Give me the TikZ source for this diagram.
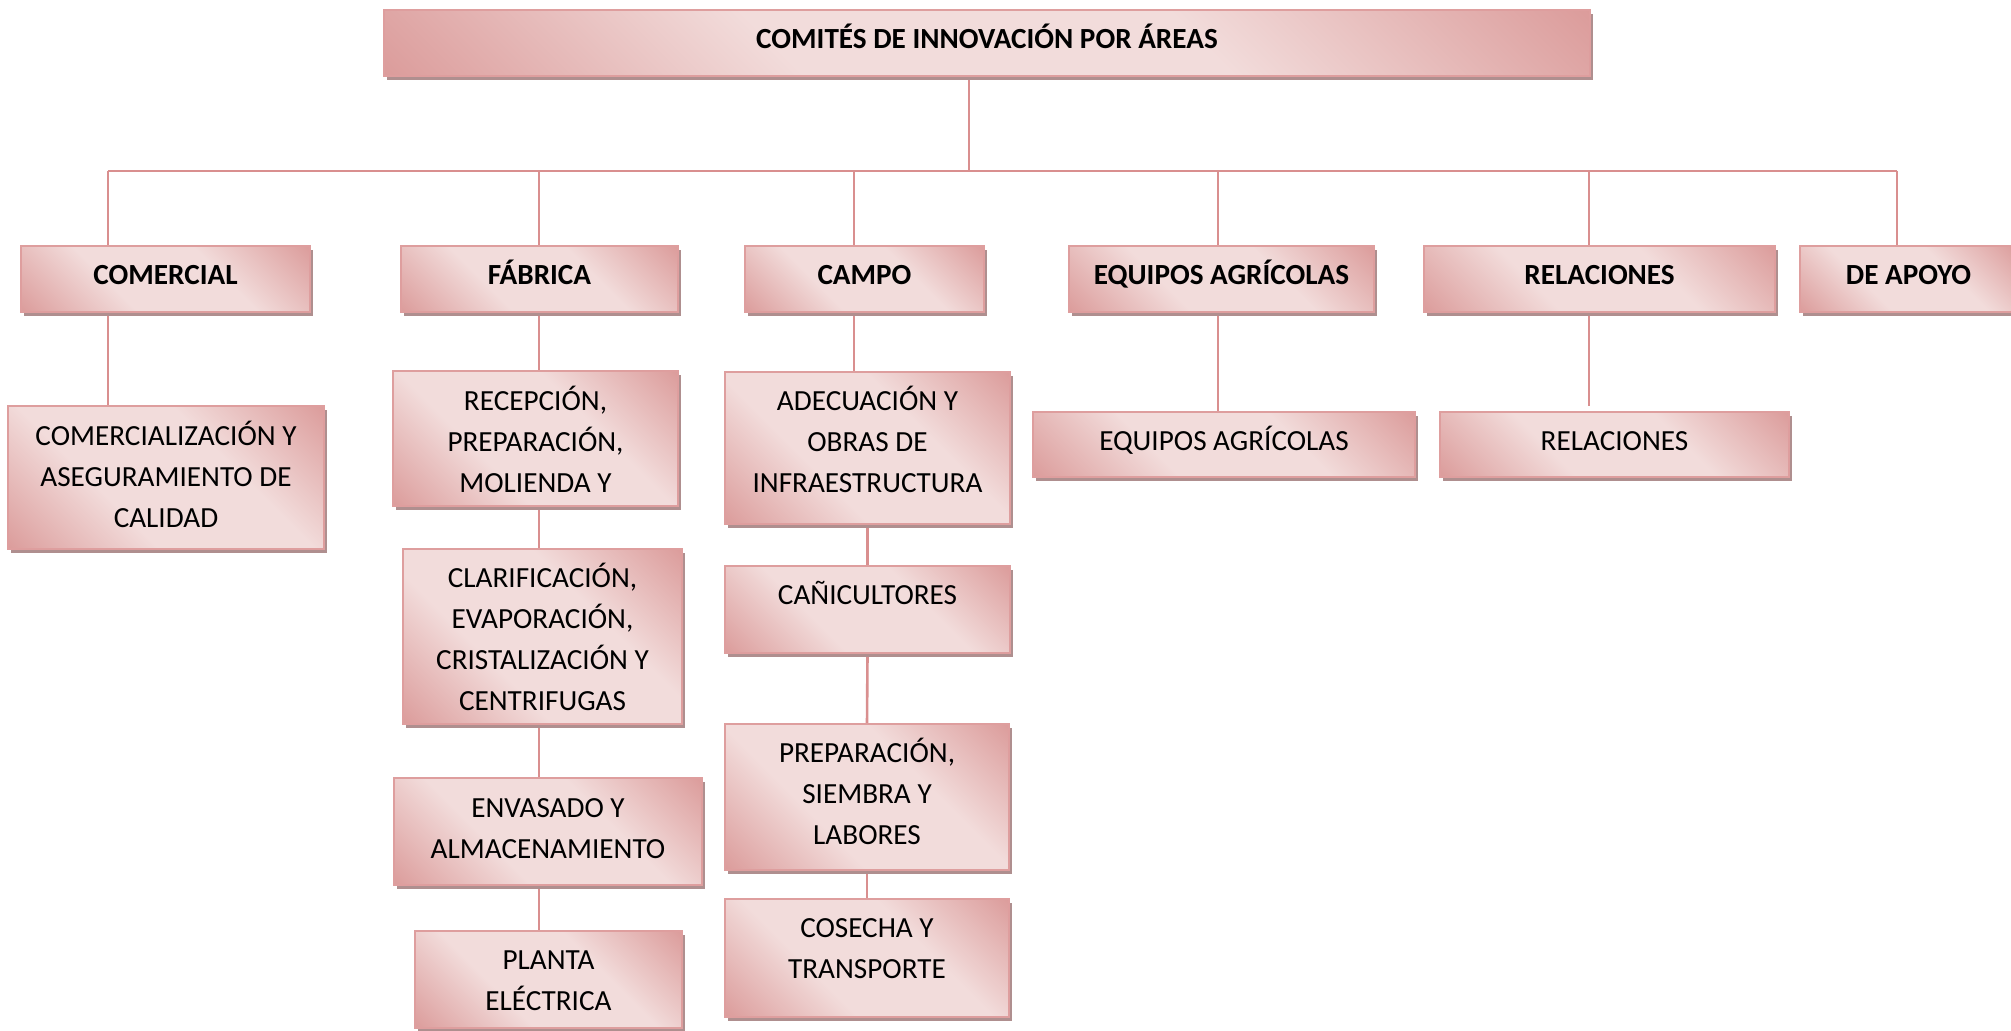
\documentclass[tikz,border=0pt]{standalone}
\usepackage{fontspec}
\setmainfont{Carlito}
\usetikzlibrary{shadows,backgrounds}

\definecolor{rdark}{HTML}{D99594}
\definecolor{rlight}{HTML}{F2DCDB}
\definecolor{rborder}{HTML}{DE9E9E}
\definecolor{rline}{HTML}{D98F8F}
\definecolor{rshadow}{HTML}{AF8F8F}

% diagonal light band between two darker corners
\pgfdeclareverticalshading{rosegrad}{100bp}{%
  color(0bp)=(rdark); color(12bp)=(rdark); color(38bp)=(rlight);
  color(62bp)=(rlight); color(88bp)=(rdark); color(100bp)=(rdark)}

\newcommand\boxfont{\fontsize{14.6pt}{20.5pt}\selectfont}
% centred lines, baseline on the first one
\newcommand\stack[1]{\begin{tabular}[t]{@{}c@{}}#1\end{tabular}}

\tikzset{
  orgbox/.style={draw=rborder, line width=0.9pt, shade, shading=rosegrad,
    shading angle=-45, inner sep=0pt, font=\boxfont,
    text=black, text height=9.2pt, text depth=3.2pt,
    general shadow={fill=rshadow, shadow xshift=1.5pt, shadow yshift=-2pt}},
  headbox/.style={orgbox, font=\boxfont\bfseries},
  sz/.style 2 args={minimum width=#1pt, minimum height=#2pt},
  conn/.style={draw=rline, line width=1.3pt},
}

\begin{document}
\begin{tikzpicture}[x=0.5pt, y=-0.5pt]
\path[use as bounding box] (0,0) rectangle (2011,1031);
\clip (0,0) rectangle (2011,1031);

% bus and drop points
\coordinate (btop) at (969,171);
\coordinate (b1) at (108,171);
\coordinate (b2) at (539,171);
\coordinate (b3) at (854,171);
\coordinate (b4) at (1218,171);
\coordinate (b5) at (1589,171);
\coordinate (b6) at (1897,171);

% top level
\node[headbox, sz={603}{33}] (top) at (987,43) {COMITÉS DE INNOVACIÓN POR ÁREAS};

% second level
\node[headbox, sz={144.5}{33}] (com2) at (165.5,279) {COMERCIAL};
\node[headbox, sz={138.5}{33}] (fab2) at (539.5,279) {FÁBRICA};
\node[headbox, sz={119.5}{33}] (cam2) at (864.5,279) {CAMPO};
\node[headbox, sz={152.5}{33}] (equ2) at (1221.5,279) {EQUIPOS AGRÍCOLAS};
\node[headbox, sz={175.5}{33}] (rel2) at (1599.5,279) {RELACIONES};
\node[headbox, sz={108.5}{33}] (apo2) at (1908.5,279) {DE APOYO};

% third level
\node[orgbox, text depth=41pt, sz={158}{71.5}] (com3) at (166,477.5)
  {\stack{COMERCIALIZACIÓN Y\\ASEGURAMIENTO DE\\CALIDAD}};

\node[orgbox, text depth=37pt, sz={142.5}{67.5}] (rec) at (535.5,438.5)
  {\stack{RECEPCIÓN,\\PREPARACIÓN,\\MOLIENDA Y}};
\node[orgbox, text depth=58pt, sz={139.5}{87.5}] (cla) at (542.5,636.5)
  {\stack{CLARIFICACIÓN,\\EVAPORACIÓN,\\CRISTALIZACIÓN Y\\CENTRIFUGAS}};
\node[orgbox, text depth=23.5pt, sz={154}{53.5}] (env) at (548,831.5)
  {\stack{ENVASADO Y\\ALMACENAMIENTO}};
\node[orgbox, text depth=19.5pt, sz={133.5}{48.5}] (pla) at (548.5,979.5)
  {\stack{PLANTA\\ELÉCTRICA}};

\node[orgbox, text depth=46.5pt, sz={142.5}{76}] (ade) at (867.5,448)
  {\stack{ADECUACIÓN Y\\OBRAS DE\\INFRAESTRUCTURA}};
\node[orgbox, text depth=14.5pt, sz={142.5}{43.5}] (can) at (867.5,609.5)
  {CAÑICULTORES};
\node[orgbox, text depth=44pt, sz={142}{73}] (pre) at (867,797)
  {\stack{PREPARACIÓN,\\SIEMBRA Y\\LABORES}};
\node[orgbox, text depth=30pt, sz={142}{59}] (cos) at (867,958)
  {\stack{COSECHA Y\\TRANSPORTE}};

\node[orgbox, sz={191}{32.5}] (equ3) at (1224,444.5) {EQUIPOS AGRÍCOLAS};
\node[orgbox, sz={174.5}{32.5}] (rel3) at (1614.5,444.5) {RELACIONES};

% connectors, kept behind the boxes
\begin{scope}[on background layer]
\draw[conn] (top.south -| btop) -- (btop);
\draw[conn] (b1) -- (b6);

\draw[conn] (b1) -- (b1 |- com2.north);
\draw[conn] (b2) -- (b2 |- fab2.north);
\draw[conn] (b3) -- (b3 |- cam2.north);
\draw[conn] (b4) -- (b4 |- equ2.north);
\draw[conn] (b5) -- (b5 |- rel2.north);
\draw[conn] (b6) -- (b6 |- apo2.north);

\draw[conn] (com2.south -| b1) -- (com3.north -| b1);

\draw[conn] (fab2.south -| b2) -- (rec.north -| b2);
\draw[conn] (rec.south -| b2) -- (cla.north -| b2);
\draw[conn] (cla.south -| b2) -- (env.north -| b2);
\draw[conn] (env.south -| b2) -- (pla.north -| b2);

\draw[conn] (cam2.south -| b3) -- (ade.north -| b3);
\draw[conn] (ade.south) -- (can.north);
\draw[conn] (can.south) -- (pre.north);
\draw[conn] (pre.south) -- (cos.north);

\draw[conn] (equ2.south -| b4) -- (equ3.north -| b4);
\draw[conn] (rel2.south -| b5) -- ([yshift=2.5pt]rel3.north -| b5);
\end{scope}
\end{tikzpicture}
\end{document}
